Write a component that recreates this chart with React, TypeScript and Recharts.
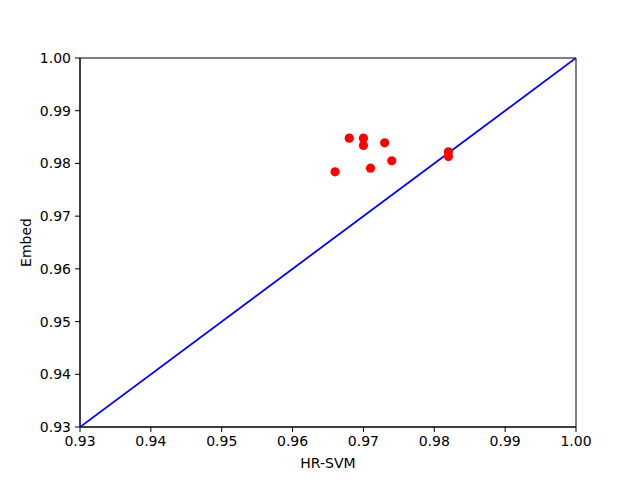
import React from 'react';
import {
  ScatterChart,
  Scatter,
  XAxis,
  YAxis,
  ReferenceArea,
  Label,
} from 'recharts';

const hrSvm = [0.968, 0.97, 0.97, 0.973, 0.974, 0.971, 0.966, 0.982, 0.982];
const embed = [0.9848, 0.9848, 0.9834, 0.9839, 0.9805, 0.9791, 0.9784, 0.9822, 0.9813];
const diagonal = [0.93, 1.0];
const ticks = [0.93, 0.94, 0.95, 0.96, 0.97, 0.98, 0.99, 1.0];

const points = hrSvm.map((x, i) => ({ x, y: embed[i] }));
const lineData = diagonal.map((v) => ({ x: v, y: v }));

const font = { fontFamily: 'DejaVu Sans', fontSize: 14, fill: '#000' };

const Dot = (props: any) => (
  <circle cx={props.cx} cy={props.cy} r={4.6} fill="#ff0000" />
);

const App: React.FC = () => {
  return (
    <div style={{ margin: -8, width: 640, height: 480, background: '#fff' }}>
      <ScatterChart
        width={640}
        height={480}
        margin={{ top: 58, right: 64, left: 0, bottom: 0 }}
      >
        <XAxis
          type="number"
          dataKey="x"
          domain={[0.93, 1.0]}
          ticks={ticks}
          tickFormatter={(v: number) => v.toFixed(2)}
          allowDataOverflow
          height={53}
          stroke="#000"
          tickSize={5}
          tickMargin={4}
          tick={font}
        >
          <Label value="HR-SVM" position="insideBottom" offset={12} style={font} />
        </XAxis>
        <YAxis
          type="number"
          dataKey="y"
          domain={[0.93, 1.0]}
          ticks={ticks}
          tickFormatter={(v: number) => v.toFixed(2)}
          allowDataOverflow
          width={80}
          stroke="#000"
          tickSize={5}
          tickMargin={4}
          tick={font}
        >
          <Label
            value="Embed"
            angle={-90}
            position="insideLeft"
            offset={26}
            style={{ ...font, textAnchor: 'middle' }}
          />
        </YAxis>
        <ReferenceArea
          x1={0.93}
          x2={1.0}
          y1={0.93}
          y2={1.0}
          fill="none"
          stroke="#000"
          strokeOpacity={1}
          strokeWidth={1}
          ifOverflow="visible"
        />
        <Scatter
          data={lineData}
          line={{ stroke: '#0000ff', strokeWidth: 1.8 }}
          shape={() => null}
          isAnimationActive={false}
        />
        <Scatter data={points} shape={<Dot />} isAnimationActive={false} />
      </ScatterChart>
    </div>
  );
};

export default App;
